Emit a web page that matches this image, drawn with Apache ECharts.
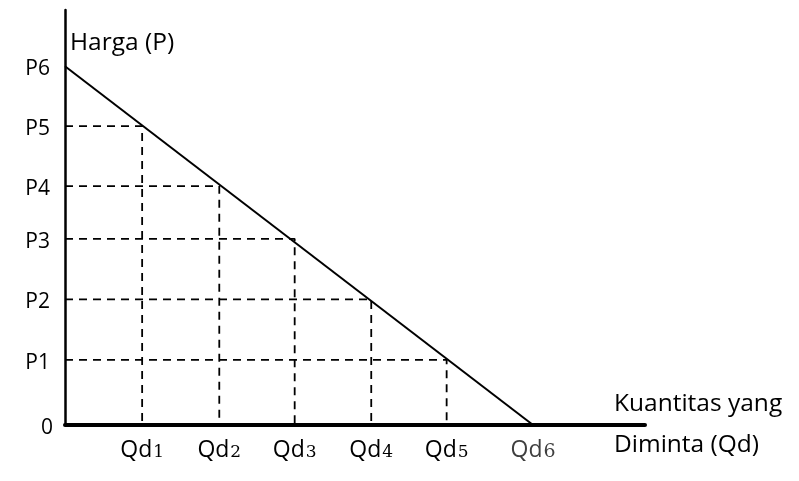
<!DOCTYPE html>
<html><head><meta charset="utf-8">
<script src="https://cdn.jsdelivr.net/npm/echarts@6/dist/echarts.min.js"></script>
<style>html,body{margin:0;padding:0;background:#fff}#c{width:799px;height:481px}</style>
</head><body><div id="c"></div>
<script>
// Price levels (P1..P6) and quantities demanded (Qd1..Qd6)
var priceLabels = ['P1','P2','P3','P4','P5','P6'];
var priceValues = [1.10, 2.12, 3.14, 4.03, 5.04, 6.05];
var qtyLabels = ['Qd1','Qd2','Qd3','Qd4','Qd5','Qd6'];
var qtyValues = [1.33, 2.66, 3.96, 5.28, 6.58, 8.07];
var FONT = '"Open Sans", "Noto Sans", sans-serif';
var DIGIT = '"DejaVu Serif", serif';

var chart = echarts.init(document.getElementById('c'), null, {renderer:'canvas'});
var series = [];
// dashed guides: Qd_i pairs with P_(6-i)
for (var i = 0; i < 5; i++) {
  var q = qtyValues[i], p = priceValues[4 - i];
  series.push({type:'line', symbol:'none', silent:true, animation:false,
    data:[[0,p],[q,p],[q,0]],
    lineStyle:{color:'#000', width:1.8, type:[8,6]}});
}
// demand curve
series.push({type:'line', symbol:'none', animation:false,
  data:[[0, priceValues[5]], [qtyValues[5], 0]],
  lineStyle:{color:'#000', width:2}});
// price labels
series.push({type:'scatter', symbolSize:0, animation:false, itemStyle:{opacity:1},
  data: priceLabels.map(function(l,i){return {value:[0,priceValues[i]], name:l};})
    .concat([{value:[0,0], name:'0', label:{offset:[3,3]}}]),
  label:{show:true, position:'left', distance:15, offset:[0,3],
    formatter:function(d){return d.name;},
    color:'#000', fontFamily:FONT, fontSize:21}});
// quantity labels
function qRich(col, ds){
  return {a:{fontFamily:FONT, fontSize:23, color:col},
          b:{fontFamily:DIGIT, fontSize:ds, color:col, padding:[4,0,0,1]}};
}
var qData = qtyLabels.map(function(l,i){return {value:[qtyValues[i],0], name:l};});
qData[5].label = {rich:qRich('#3f3f3f', 19)};
series.push({type:'scatter', symbolSize:0, animation:false, itemStyle:{opacity:1},
  data: qData,
  label:{show:true, position:'bottom', distance:14,
    formatter:function(d){return '{a|Qd}{b|' + d.name.slice(2) + '}';},
    rich:qRich('#000', 17), color:'#000'}});

chart.setOption({
  animation:false,
  grid:{left:65, right:154, top:10, bottom:56, containLabel:false},
  xAxis:{type:'value', min:0, max:10,
    axisLine:{show:true, onZero:false, lineStyle:{color:'#000', width:4}},
    axisTick:{show:false}, axisLabel:{show:false}, splitLine:{show:false},
    name:'Kuantitas yang\nDiminta (Qd)', nameLocation:'end', nameGap:-31,
    nameTextStyle:{align:'left', verticalAlign:'middle', lineHeight:41, padding:[0,0,2,0],
      fontFamily:FONT, fontSize:24.5, color:'#000'}},
  yAxis:{type:'value', min:0, max:7,
    axisLine:{show:true, onZero:false, lineStyle:{color:'#000', width:2.5}},
    axisTick:{show:false}, axisLabel:{show:false}, splitLine:{show:false},
    name:'Harga (P)', nameLocation:'end', nameGap:-33,
    nameTextStyle:{align:'left', verticalAlign:'middle', padding:[0,0,0,5],
      fontFamily:FONT, fontSize:24.5, color:'#000'}},
  series:series
});
</script></body></html>
